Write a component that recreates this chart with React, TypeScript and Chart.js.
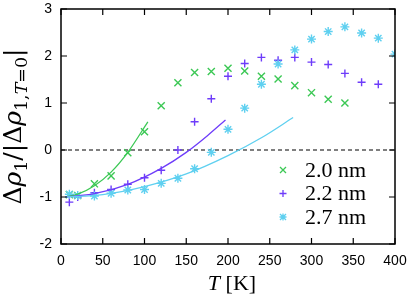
import React, { useEffect, useRef } from 'react';
import { Chart, registerables } from 'chart.js';
Chart.register(...registerables);

// ---- data ----
const temps20 = [10, 20, 40, 60, 80, 100, 120, 140, 160, 180, 200, 220, 240, 260, 280, 300, 320, 340];
const rho20 = [-0.95, -0.97, -0.72, -0.55, -0.06, 0.39, 0.94, 1.43, 1.65, 1.67, 1.74, 1.68, 1.57, 1.51, 1.37, 1.22, 1.08, 1.0];

const temps22 = [10, 20, 40, 60, 80, 100, 120, 140, 160, 180, 200, 220, 240, 260, 280, 300, 320, 340, 360, 380];
const rho22 = [-1.11, -1.0, -0.91, -0.84, -0.73, -0.59, -0.43, 0.0, 0.6, 1.09, 1.57, 1.84, 1.97, 1.91, 1.97, 1.87, 1.82, 1.63, 1.44, 1.4];

const temps27 = [10, 20, 40, 60, 80, 100, 120, 140, 160, 180, 200, 220, 240, 260, 280, 300, 320, 340, 360, 380, 400];
const rho27 = [-0.94, -0.97, -0.98, -0.92, -0.85, -0.84, -0.71, -0.6, -0.4, -0.05, 0.44, 0.89, 1.4, 1.83, 2.13, 2.36, 2.52, 2.62, 2.49, 2.38, 2.04];

// fitted curves
const fitT20 = [5, 20, 40, 60, 80, 104];
const fit20 = [-1.0, -0.94, -0.76, -0.47, -0.05, 0.6];
const fitT22 = [5, 40, 80, 120, 150, 175, 197];
const fit22 = [-1.0, -0.93, -0.73, -0.39, -0.05, 0.3, 0.64];
const fitT27 = [5, 50, 100, 150, 200, 240, 278];
const fit27 = [-1.0, -0.95, -0.78, -0.51, -0.12, 0.26, 0.69];

const zeroT = [0, 400];
const zeroV = [0, 0];

const seriesLabels = ['2.0 nm', '2.2 nm', '2.7 nm'];
const xTicks = [0, 50, 100, 150, 200, 250, 300, 350, 400];
const yTicks = [-2, -1, 0, 1, 2, 3];

const GREEN = 'rgb(60,200,85)';
const PURPLE = 'rgb(110,60,250)';
const CYAN = 'rgb(95,208,240)';

const toXY = (xs: number[], ys: number[]) => xs.map((x, i) => ({ x, y: ys[i] }));

function drawMarker(ctx: CanvasRenderingContext2D, kind: string, x: number, y: number, color: string) {
  ctx.save();
  ctx.strokeStyle = color;
  ctx.lineWidth = 1.3;
  ctx.beginPath();
  if (kind === 'x' || kind === '*') {
    const d = 3;
    ctx.moveTo(x - d, y - d); ctx.lineTo(x + d, y + d);
    ctx.moveTo(x - d, y + d); ctx.lineTo(x + d, y - d);
  }
  if (kind === '+' || kind === '*') {
    const d = 3.5;
    ctx.moveTo(x - d, y); ctx.lineTo(x + d, y);
    ctx.moveTo(x, y - d); ctx.lineTo(x, y + d);
  }
  ctx.stroke();
  ctx.restore();
}

const framePlugin = {
  id: 'frame',
  afterDraw(chart: any) {
    const { ctx, chartArea: a, scales } = chart;
    const xs = scales.x, ys = scales.y;
    ctx.save();
    // box
    ctx.strokeStyle = '#000';
    ctx.lineWidth = 1.5;
    ctx.strokeRect(a.left, a.top, a.right - a.left, a.bottom - a.top);
    // inward ticks
    ctx.lineWidth = 1.2;
    const tl = 6;
    ctx.beginPath();
    xTicks.forEach((t) => {
      const px = xs.getPixelForValue(t);
      ctx.moveTo(px, a.bottom); ctx.lineTo(px, a.bottom - tl);
      ctx.moveTo(px, a.top); ctx.lineTo(px, a.top + tl);
    });
    yTicks.forEach((t) => {
      const py = ys.getPixelForValue(t);
      ctx.moveTo(a.left, py); ctx.lineTo(a.left + tl, py);
      ctx.moveTo(a.right, py); ctx.lineTo(a.right - tl, py);
    });
    ctx.stroke();

    // x title
    ctx.fillStyle = '#000';
    ctx.textBaseline = 'alphabetic';
    const fReg = '22px "Liberation Serif"';
    const fIt = 'italic 22px "Liberation Serif"';
    ctx.font = fIt; const wT = ctx.measureText('T').width;
    ctx.font = fReg; const wK = ctx.measureText(' [K]').width;
    const sx = (a.left + a.right) / 2 + 4 - (wT + wK) / 2;
    ctx.font = fIt; ctx.fillText('T', sx, 290);
    ctx.font = fReg; ctx.fillText(' [K]', sx + wT, 290);

    // y title (rotated, with subscripts)
    const size = 25;
    const sub = size * 0.7;
    const fam = '"DejaVu Serif"';
    const parts: [string, string, number][] = [
      ['Δ', `${size}px ${fam}`, 0],
      ['ρ', `italic ${size}px ${fam}`, 0],
      ['1', `${sub}px ${fam}`, 6],
      ['/|Δ', `${size}px ${fam}`, 0],
      ['ρ', `italic ${size}px ${fam}`, 0],
      ['1,', `${sub}px ${fam}`, 6],
      ['T', `italic ${sub}px ${fam}`, 6],
      ['=0', `${sub}px ${fam}`, 6],
      ['|', `${size}px ${fam}`, 0],
    ];
    let total = 0;
    const widths = parts.map(([t, f]) => { ctx.font = f; const w = ctx.measureText(t).width; total += w; return w; });
    ctx.save();
    ctx.translate(21, (a.top + a.bottom) / 2);
    ctx.rotate(-Math.PI / 2);
    let px = -total / 2;
    parts.forEach(([t, f, dy], i) => {
      ctx.font = f;
      ctx.fillText(t, px, dy);
      px += widths[i];
    });
    ctx.restore();

    // legend
    const kinds = ['x', '+', '*'];
    const cols = [GREEN, PURPLE, CYAN];
    const rows = [170, 193.5, 217];
    ctx.font = '22px "Liberation Serif"';
    ctx.textBaseline = 'middle';
    ctx.textAlign = 'left';
    seriesLabels.forEach((lab, i) => {
      drawMarker(ctx, kinds[i], 283, rows[i], cols[i]);
      ctx.fillStyle = '#000';
      ctx.fillText(lab, 305, rows[i] + 1);
    });
    ctx.restore();
  },
};

export default function App() {
  const ref = useRef<HTMLCanvasElement | null>(null);
  useEffect(() => {
    if (!ref.current) return;
    const pointDs = (label: string, xs: number[], ys: number[], color: string, style: string, r: number, order: number) => ({
      type: 'scatter' as const,
      label,
      data: toXY(xs, ys),
      showLine: false,
      pointStyle: style,
      pointRadius: r,
      pointHoverRadius: r,
      pointBorderColor: color,
      pointBackgroundColor: color,
      pointBorderWidth: 1.4,
      borderColor: color,
      order,
    });
    const lineDs = (xs: number[], ys: number[], color: string, order: number, dash: number[] = []) => ({
      type: 'line' as const,
      label: '',
      data: toXY(xs, ys),
      showLine: true,
      pointRadius: 0,
      borderColor: color,
      borderWidth: dash.length ? 1.2 : 1.3,
      borderDash: dash,
      cubicInterpolationMode: 'monotone' as const,
      fill: false,
      order,
    });
    const chart = new Chart(ref.current, {
      type: 'scatter',
      data: {
        datasets: [
          lineDs(zeroT, zeroV, '#000', 10, [4, 3]),
          pointDs(seriesLabels[0], temps20, rho20, GREEN, 'crossRot', 5, 6),
          pointDs(seriesLabels[1], temps22, rho22, PURPLE, 'cross', 4, 5),
          pointDs(seriesLabels[2], temps27, rho27, CYAN, 'star', 4.5, 4),
          lineDs(fitT20, fit20, GREEN, 3),
          lineDs(fitT22, fit22, PURPLE, 2),
          lineDs(fitT27, fit27, CYAN, 1),
        ] as any,
      },
      options: {
        responsive: false,
        animation: false,
        events: [],
        layout: { padding: 0 },
        plugins: { legend: { display: false }, tooltip: { enabled: false } },
        scales: {
          x: {
            type: 'linear',
            min: 0,
            max: 400,
            afterFit: (s: any) => { s.height = 54; s.paddingLeft = 0; s.paddingRight = 15; },
            afterBuildTicks: (s: any) => { s.ticks = xTicks.map((v) => ({ value: v })); },
            grid: { display: false, drawTicks: false },
            border: { display: false },
            ticks: { color: '#000', padding: 9, maxRotation: 0, font: { family: '"Liberation Sans"', size: 14 } },
          },
          y: {
            type: 'linear',
            min: -2,
            max: 3,
            afterFit: (s: any) => { s.width = 61; s.paddingTop = 9; s.paddingBottom = 0; },
            afterBuildTicks: (s: any) => { s.ticks = yTicks.map((v) => ({ value: v })); },
            grid: { display: false, drawTicks: false },
            border: { display: false },
            ticks: { color: '#000', padding: 9, font: { family: '"Liberation Sans"', size: 14 } },
          },
        },
      },
      plugins: [framePlugin],
    });
    return () => chart.destroy();
  }, []);
  return (
    <div style={{ position: 'fixed', left: 0, top: 0, width: 410, height: 298, background: '#fff' }}>
      <canvas ref={ref} width={410} height={298} style={{ display: 'block', width: 410, height: 298 }} />
    </div>
  );
}
